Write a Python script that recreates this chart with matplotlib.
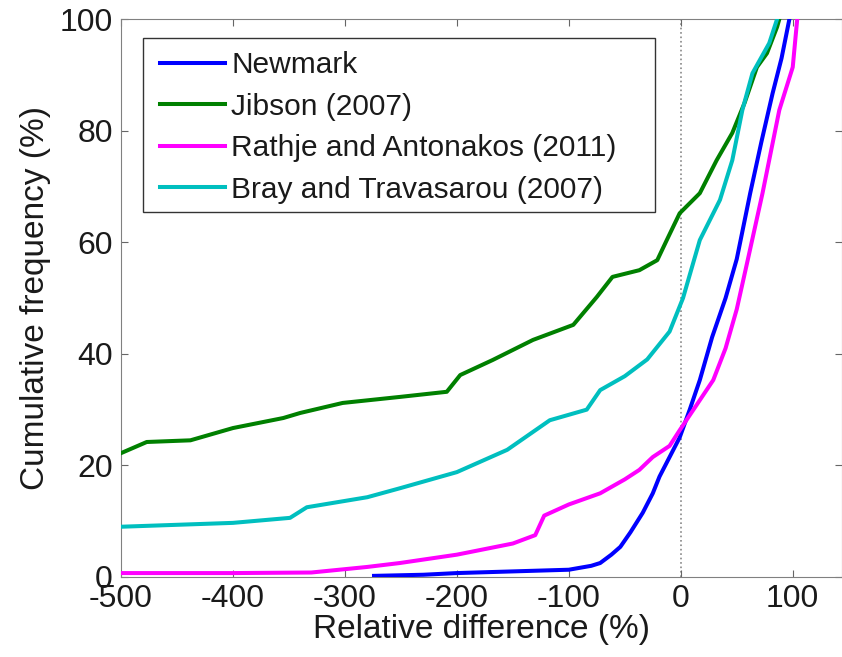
import matplotlib
matplotlib.use("Agg")
import matplotlib.pyplot as plt
from matplotlib.patches import Rectangle

plt.rcParams['font.family'] = ['Liberation Sans', 'DejaVu Sans']
plt.rcParams['axes.unicode_minus'] = False

# relative difference (%) vs cumulative frequency (%) for each method
newmark_x = [-274, -230, -200, -150, -100, -80, -72, -62, -54, -45, -34, -25, -19, -10, -1, 8, 17, 28, 40, 50, 62, 72, 82, 90, 97]
newmark_y = [0.2, 0.4, 0.7, 1.0, 1.3, 2.0, 2.5, 4.0, 5.4, 8.0, 11.5, 15.0, 18.0, 21.5, 25.0, 30.0, 35.3, 43.0, 50.0, 57.0, 68.8, 78.0, 86.7, 93.0, 100.0]

jibson_x = [-500, -477, -438, -400, -355, -340, -302, -250, -209, -197, -168, -132, -96, -75, -61, -37, -21, -12.5, -1, 8, 17, 32, 46, 57, 68, 77, 86, 88]
jibson_y = [22.2, 24.2, 24.5, 26.7, 28.5, 29.4, 31.2, 32.3, 33.2, 36.2, 38.9, 42.5, 45.2, 50.2, 53.8, 55.0, 56.8, 60.4, 65.2, 67.0, 68.8, 74.7, 79.6, 85.0, 91.4, 93.9, 98.6, 100.0]

rathje_x = [-500, -400, -330, -280, -251, -200, -150, -130, -122, -100, -72, -50, -37, -25, -10, -1, 17, 29, 40, 50, 60, 73, 88, 100, 104]
rathje_y = [0.7, 0.7, 0.8, 1.8, 2.5, 4.0, 6.0, 7.5, 11.0, 13.0, 15.0, 17.5, 19.2, 21.5, 23.5, 26.3, 31.7, 35.3, 41.0, 48.0, 57.0, 68.8, 83.7, 91.4, 100.0]

bray_x = [-501, -400, -349, -334, -280, -251, -200, -155, -117, -84, -72, -50, -30, -10, 2, 17, 35, 46, 55, 64, 79, 86]
bray_y = [9.0, 9.7, 10.6, 12.5, 14.3, 15.9, 18.8, 22.8, 28.1, 30.0, 33.5, 36.0, 39.0, 44.0, 50.0, 60.4, 67.6, 74.7, 83.7, 90.3, 95.7, 100.0]

labels = ['Newmark', 'Jibson (2007)', 'Rathje and Antonakos (2011)', 'Bray and Travasarou (2007)']
colors = ['#0000ff', '#008000', '#ff00ff', '#00bfbf']

fig = plt.figure(figsize=(8.42, 6.57), dpi=100)
ax = fig.add_axes([0.1437, 0.1218, 0.8563, 0.849])

ax.axvline(0, color='#888888', linestyle=':', linewidth=1.2, zorder=1)

series = [(newmark_x, newmark_y), (jibson_x, jibson_y), (rathje_x, rathje_y), (bray_x, bray_y)]
for (xs, ys), lab, col in zip(series, labels, colors):
    ax.plot(xs, ys, color=col, linewidth=2.9, label=lab, zorder=3)

ax.set_xlim(-500, 144)
ax.set_ylim(0, 100)
ax.set_xticks([-500, -400, -300, -200, -100, 0, 100])
ax.set_yticks([0, 20, 40, 60, 80, 100])
ax.tick_params(direction='in', top=True, right=True, labelsize=23, length=5,
               color='#666666', labelcolor='#1a1a1a')
ax.tick_params(axis='x', pad=5)
ax.tick_params(axis='y', pad=6)
for s in ax.spines.values():
    s.set_color('#808080')

ax.set_xlabel('Relative difference (%)', fontsize=24, labelpad=0, color='#1a1a1a')
ax.set_ylabel('Cumulative frequency (%)', fontsize=24, labelpad=6, color='#1a1a1a')

# legend box is wider than its contents, so draw it separately
box = Rectangle((0.0305, 0.654), 0.710, 0.312, transform=ax.transAxes,
                facecolor='white', edgecolor='#333333', linewidth=1.0, zorder=4)
ax.add_patch(box)
leg = ax.legend(loc='upper left', bbox_to_anchor=(0.039, 0.961), fontsize=21.5,
                frameon=False, handlelength=2.2, handletextpad=0.2, borderpad=0.35,
                labelspacing=0.45, borderaxespad=0)
leg.set_zorder(5)
for t in leg.get_texts():
    t.set_color('#1a1a1a')

fig.savefig('out.png', dpi=100)
